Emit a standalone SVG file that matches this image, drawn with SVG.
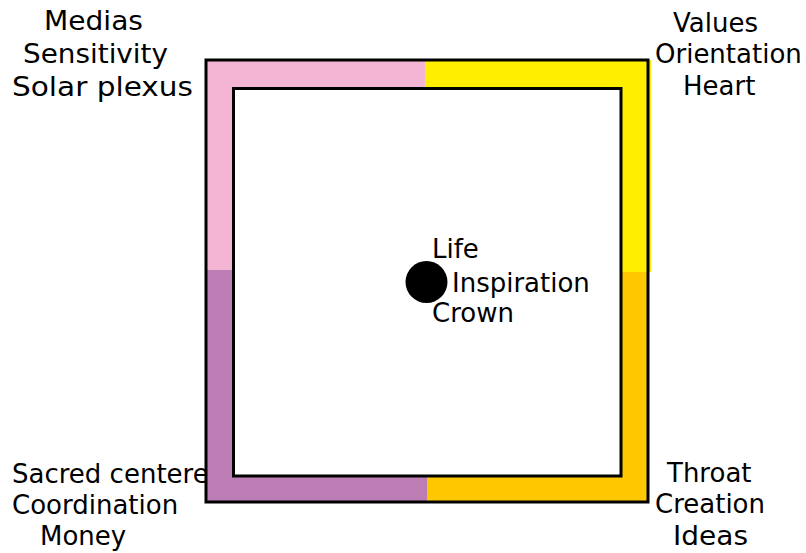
<svg xmlns="http://www.w3.org/2000/svg" width="806" height="553" viewBox="0 0 806 553">
<style>
text{font-family:"DejaVu Sans","Verdana",sans-serif;font-size:26px;fill:#000}
.b{stroke:#000;stroke-width:3}
</style>
<rect width="806" height="553" fill="#fff"/>
<g id="labels">
<g id="tl"><text x="44" y="30" textLength="99" lengthAdjust="spacingAndGlyphs">Medias</text><text x="23" y="63" textLength="145" lengthAdjust="spacingAndGlyphs">Sensitivity</text><text x="12" y="96" textLength="181" lengthAdjust="spacingAndGlyphs">Solar plexus</text></g>
<g id="tr"><text x="673" y="32">Values</text><text x="655" y="63">Orientation</text><text x="683" y="95">Heart</text></g>
<g id="bl"><text x="12" y="483">Sacred centere</text><text x="12" y="514">Coordination</text><text x="40" y="545">Money</text></g>
<g id="br"><text x="667" y="482">Throat</text><text x="655" y="513">Creation</text><text x="673" y="545" textLength="75" lengthAdjust="spacingAndGlyphs">Ideas</text></g>
</g>
<g id="frame">
<rect x="206" y="60" width="219" height="211" fill="#F4B4D4"/>
<rect x="425" y="60" width="224" height="212" fill="#FFEE00"/>
<rect x="624" y="60" width="27" height="212" fill="#FFEE00"/>
<rect x="206" y="270" width="221" height="232" fill="#BC7CB4"/>
<rect x="427" y="272" width="222" height="230" fill="#FFC700"/>
<rect class="b" x="206" y="60" width="442" height="442" style="fill:none"/>
<rect class="b" x="233.5" y="88.5" width="387.5" height="387.5" style="fill:#fff"/>
</g>
<g id="center">
<circle cx="426.5" cy="282" r="21" fill="#000"/>
<text x="432" y="258">Life</text>
<text x="452" y="292">Inspiration</text>
<text x="432" y="322">Crown</text>
</g>
</svg>
